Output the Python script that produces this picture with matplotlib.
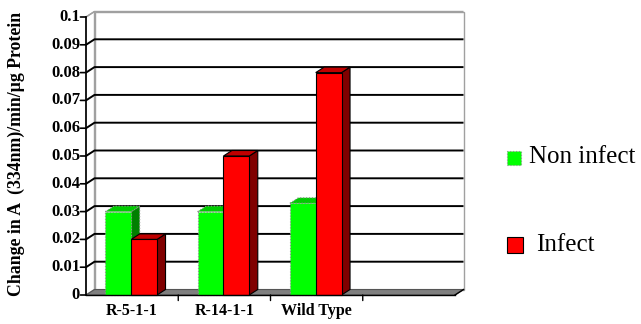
import matplotlib
matplotlib.use("Agg")
import matplotlib.pyplot as plt
from matplotlib.patches import Polygon, Rectangle

categories = ["R-5-1-1", "R-14-1-1", "Wild Type", ""]
non_infect = [0.030, 0.030, 0.033]
infect = [0.020, 0.050, 0.080]
y_ticks = [0, 0.01, 0.02, 0.03, 0.04, 0.05, 0.06, 0.07, 0.08, 0.09, 0.1]
y_tick_labels = ["0", "0.01", "0.02", "0.03", "0.04", "0.05", "0.06", "0.07", "0.08", "0.09", "0.1"]
series_names = ["Non infect", "Infect"]

W, H = 641, 324
fig = plt.figure(figsize=(W / 100, H / 100), dpi=100)
fig.patch.set_facecolor("white")

# front plane of the plot: x in category units, y in data units
ax = fig.add_axes([86 / W, 1 - 295 / H, (455 - 86) / W, (295 - 17) / H])
ncat = len(categories)
ymax = 0.1
ax.set_xlim(0, ncat)
ax.set_ylim(0, ymax)
ax.axis("off")

# depth offset of the 3D box (in data units)
DX = 8.5 / ((455 - 86) / ncat)
DY = 5.5 / (278 / ymax)

serif = "Liberation Serif"

# back wall and left wall
ax.add_patch(Polygon([(DX, DY), (ncat + DX, DY), (ncat + DX, ymax + DY), (DX, ymax + DY)],
                     closed=True, facecolor="white", edgecolor="#a0a0a0", lw=1.0,
                     clip_on=False, zorder=1))
ax.add_patch(Polygon([(0, 0), (DX, DY), (DX, ymax + DY), (0, ymax)],
                     closed=True, facecolor="white", edgecolor="#a0a0a0", lw=1.0,
                     clip_on=False, zorder=1))
# floor
ax.add_patch(Polygon([(0, 0), (ncat, 0), (ncat + DX, DY), (DX, DY)],
                     closed=True, facecolor="#7f7f7f", edgecolor="#555555", lw=0.8,
                     clip_on=False, zorder=2))

# gridlines on left and back walls
for v in y_ticks[1:]:
    col = "#a0a0a0" if v == ymax else "black"
    lw = 1.0 if v == ymax else 1.4
    ax.plot([0, DX, ncat + DX], [v, v + DY, v + DY], color=col, lw=lw,
            clip_on=False, zorder=2, solid_capstyle="butt")

# value axis with ticks
ax.plot([0, 0], [0, ymax], color="black", lw=1.2, clip_on=False, zorder=6)
for v, lab in zip(y_ticks, y_tick_labels):
    ax.annotate("", xy=(0, v), xytext=(-4, 0), textcoords="offset points",
                arrowprops=dict(arrowstyle="-", color="black", lw=1.2, shrinkA=0, shrinkB=0))
    ax.annotate(lab, xy=(0, v), xytext=(-6, 0), textcoords="offset pixels",
                ha="right", va="center", fontsize=12, fontweight="bold",
                fontfamily=serif, annotation_clip=False)

# category axis
ax.plot([0, ncat], [0, 0], color="black", lw=1.0, clip_on=False, zorder=6)
for i in range(1, ncat):
    ax.annotate("", xy=(i, 0), xytext=(0, -4), textcoords="offset points",
                arrowprops=dict(arrowstyle="-", color="black", lw=1.0, shrinkA=0, shrinkB=0))
ax.plot([ncat, ncat + DX], [0, DY], color="black", lw=1.0, clip_on=False, zorder=6)
for i, lab in enumerate(categories):
    ax.annotate(lab, xy=(i + 0.5, 0), xytext=(0, -8), textcoords="offset pixels",
                ha="center", va="top", fontsize=11.5, fontweight="bold",
                fontfamily=serif, annotation_clip=False)


def bar3d(x0, width, h, front, side, top, edge, ls):
    kw = dict(closed=True, edgecolor=edge, lw=0.8, linestyle=ls, clip_on=False, zorder=5)
    ax.add_patch(Polygon([(x0 + width, 0), (x0 + width + DX, DY), (x0 + width + DX, h + DY),
                          (x0 + width, h)], facecolor=side, **kw))
    ax.add_patch(Polygon([(x0, h), (x0 + width, h), (x0 + width + DX, h + DY), (x0 + DX, h + DY)],
                         facecolor=top, **kw))
    ax.add_patch(Polygon([(x0, 0), (x0 + width, 0), (x0 + width, h), (x0, h)],
                         facecolor=front, **kw))


bw = 0.28
for i in range(len(non_infect)):
    gx = i + 0.21
    bar3d(gx, bw, non_infect[i], "#00ff00", "#008000", "#00cc00", "#909090", ":")
    bar3d(gx + bw, bw, infect[i], "#ff0000", "#800000", "#c00000", "black", "-")

# value axis title
fig.text(16 / W, 1 - 154 / H, "Change in A  (334nm)/min/\u00b5g Protein", rotation=90,
         ha="center", va="center", fontsize=12.8, fontweight="bold", fontfamily=serif)

# legend
fig.patches.append(Rectangle((507 / W, 1 - 165 / H), 14 / W, 14 / H, transform=fig.transFigure,
                             facecolor="#00ff00", edgecolor="#909090", lw=0.8, linestyle=":"))
fig.text(529 / W, 1 - 157 / H, series_names[0], ha="left", va="center",
         fontsize=18, fontfamily=serif)
fig.patches.append(Rectangle((507 / W, 1 - 253 / H), 16 / W, 16 / H, transform=fig.transFigure,
                             facecolor="#ff0000", edgecolor="black", lw=0.8))
fig.text(536 / W, 1 - 245 / H, series_names[1], ha="left", va="center",
         fontsize=18, fontfamily=serif)

fig.savefig("out.png", dpi=100, facecolor="white")
